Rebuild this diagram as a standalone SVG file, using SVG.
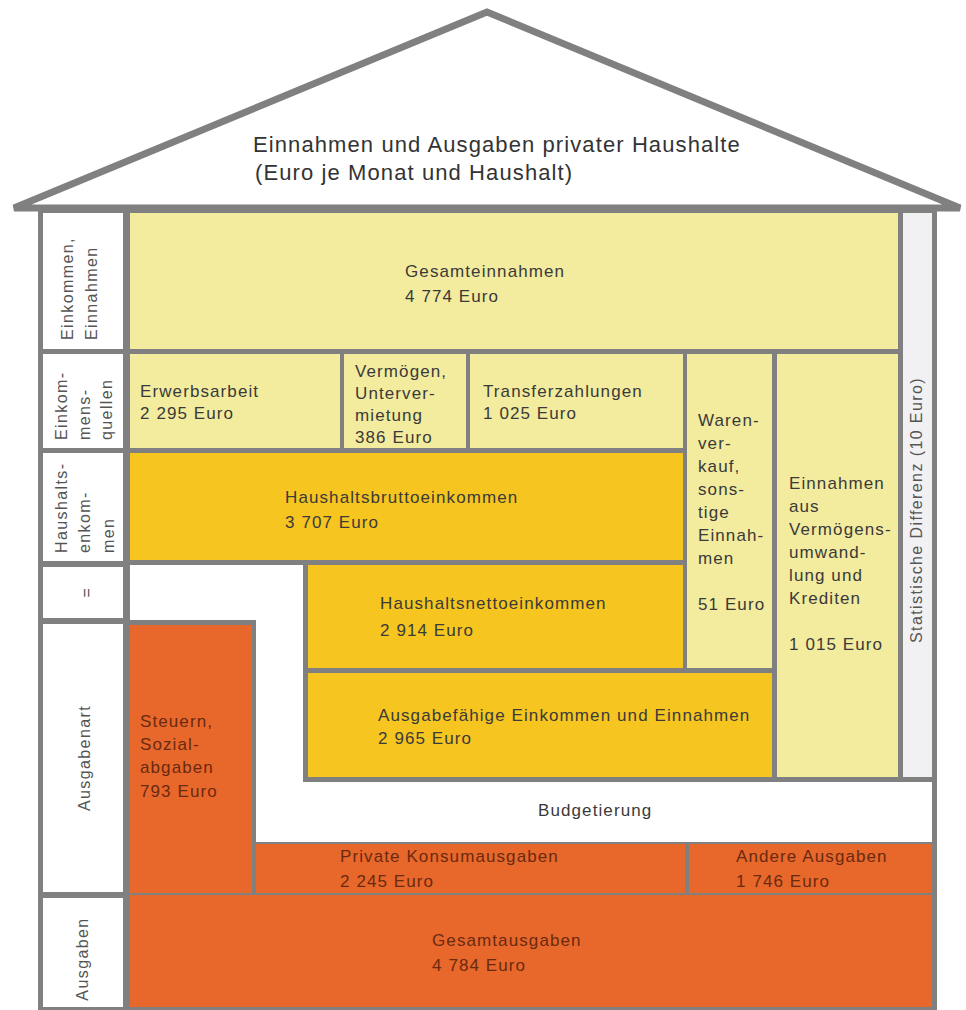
<svg xmlns="http://www.w3.org/2000/svg" width="966" height="1010" viewBox="0 0 966 1010">
<style>
.t{font-family:"Liberation Sans",Arial,sans-serif;font-size:17px;letter-spacing:1.1px;fill:#3a3a3a}
.o{fill:#6a2a10}
.l{font-family:"Liberation Sans",Arial,sans-serif;font-size:16px;letter-spacing:1.4px;fill:#555}
.ti{font-family:"Liberation Sans",Arial,sans-serif;font-size:22px;letter-spacing:1.1px;fill:#333}
.ly{fill:#f3eb9e}
.dy{fill:#f6c520}
.or{fill:#e8672b}
.wh{fill:#fff}
.st{fill:#f1f1f3}
</style>
<rect x="0" y="0" width="966" height="1010" fill="#fff"/>
<g id="roof">
<polygon points="14,208 487,12 960,208" fill="#fff" stroke="#808080" stroke-width="7"/>
<text class="ti" x="253" y="152">Einnahmen und Ausgaben privater Haushalte</text>
<text class="ti" x="255" y="180">(Euro je Monat und Haushalt)</text>
</g>
<g id="body-frame">
<rect x="38" y="208" width="899" height="802" fill="#808080"/>
</g>
<g id="labels">
<g id="lbl-einkommen">
<rect class="wh" x="43" y="213" width="80" height="136"/>
<text class="l" transform="translate(73,340) rotate(-90)">Einkommen,</text>
<text class="l" transform="translate(97,340) rotate(-90)">Einnahmen</text>
</g>
<g id="lbl-quellen">
<rect class="wh" x="43" y="354" width="80" height="94"/>
<text class="l" transform="translate(67,440) rotate(-90)">Einkom-</text>
<text class="l" transform="translate(90,440) rotate(-90)">mens-</text>
<text class="l" transform="translate(112,440) rotate(-90)">quellen</text>
</g>
<g id="lbl-haushaltseinkommen">
<rect class="wh" x="43" y="453" width="80" height="108"/>
<text class="l" transform="translate(67,553) rotate(-90)">Haushalts-</text>
<text class="l" transform="translate(90,553) rotate(-90)">enkom-</text>
<text class="l" transform="translate(114,553) rotate(-90)">men</text>
</g>
<g id="lbl-gleich">
<rect class="wh" x="43" y="567" width="80" height="51"/>
<text class="l" text-anchor="middle" transform="translate(92,592) rotate(-90)">=</text>
</g>
<g id="lbl-ausgabenart">
<rect class="wh" x="43" y="624" width="80" height="268"/>
<text class="l" text-anchor="middle" transform="translate(90,758) rotate(-90)">Ausgabenart</text>
</g>
<g id="lbl-ausgaben">
<rect class="wh" x="43" y="898" width="80" height="109"/>
<text class="l" text-anchor="middle" transform="translate(88,959) rotate(-90)">Ausgaben</text>
</g>
</g>
<g id="gesamteinnahmen">
<rect class="ly" x="130" y="213" width="768" height="136"/>
<text class="t" x="405" y="277">Gesamteinnahmen</text>
<text class="t" x="405" y="302">4 774 Euro</text>
</g>
<g id="statistische-differenz">
<rect class="st" x="903" y="213" width="29" height="564"/>
<text class="l" text-anchor="middle" transform="translate(922,510) rotate(-90)">Statistische Differenz (10 Euro)</text>
</g>
<g id="erwerbsarbeit">
<rect class="ly" x="130" y="354" width="210" height="94"/>
<text class="t" x="140" y="397">Erwerbsarbeit</text>
<text class="t" x="140" y="419">2 295 Euro</text>
</g>
<g id="vermoegen">
<rect class="ly" x="344" y="354" width="122" height="94"/>
<text class="t" x="355" y="377">Vermögen,</text>
<text class="t" x="355" y="399">Unterver-</text>
<text class="t" x="355" y="421">mietung</text>
<text class="t" x="355" y="443">386 Euro</text>
</g>
<g id="transferzahlungen">
<rect class="ly" x="470" y="354" width="213" height="94"/>
<text class="t" x="483" y="397">Transferzahlungen</text>
<text class="t" x="483" y="419">1 025 Euro</text>
</g>
<g id="warenverkauf">
<rect class="ly" x="687" y="354" width="85" height="314"/>
<text class="t" x="698" y="426">Waren-</text>
<text class="t" x="698" y="449">ver-</text>
<text class="t" x="698" y="472">kauf,</text>
<text class="t" x="698" y="495">sons-</text>
<text class="t" x="698" y="518">tige</text>
<text class="t" x="698" y="541">Einnah-</text>
<text class="t" x="698" y="564">men</text>
<text class="t" x="698" y="610">51 Euro</text>
</g>
<g id="vermoegensumwandlung">
<rect class="ly" x="777" y="354" width="121" height="423"/>
<text class="t" x="789" y="489">Einnahmen</text>
<text class="t" x="789" y="512">aus</text>
<text class="t" x="789" y="535">Vermögens-</text>
<text class="t" x="789" y="558">umwand-</text>
<text class="t" x="789" y="581">lung und</text>
<text class="t" x="789" y="604">Krediten</text>
<text class="t" x="789" y="650">1 015 Euro</text>
</g>
<g id="haushaltsbruttoeinkommen">
<rect class="dy" x="130" y="453" width="553" height="107"/>
<text class="t" x="285" y="503">Haushaltsbruttoeinkommen</text>
<text class="t" x="285" y="528">3 707 Euro</text>
</g>
<g id="budgetierung">
<polygon class="wh" points="130,565 303,565 303,782 932,782 932,842 256,842 256,620 130,620"/>
<text class="t" x="538" y="816">Budgetierung</text>
</g>
<g id="haushaltsnettoeinkommen">
<rect class="dy" x="308" y="565" width="375" height="103"/>
<text class="t" x="380" y="609">Haushaltsnettoeinkommen</text>
<text class="t" x="380" y="636">2 914 Euro</text>
</g>
<g id="ausgabefaehige">
<rect class="dy" x="308" y="673" width="464" height="104"/>
<text class="t" x="378" y="721">Ausgabefähige Einkommen und Einnahmen</text>
<text class="t" x="378" y="744">2 965 Euro</text>
</g>
<g id="steuern">
<rect class="or" x="130" y="625" width="122" height="268"/>
<text class="t o" x="140" y="727">Steuern,</text>
<text class="t o" x="140" y="750">Sozial-</text>
<text class="t o" x="140" y="773">abgaben</text>
<text class="t o" x="140" y="797">793 Euro</text>
</g>
<g id="private-konsumausgaben">
<rect class="or" x="256" y="844" width="429" height="49"/>
<text class="t o" x="340" y="862">Private Konsumausgaben</text>
<text class="t o" x="340" y="887">2 245 Euro</text>
</g>
<g id="andere-ausgaben">
<rect class="or" x="689" y="844" width="243" height="49"/>
<text class="t o" x="736" y="862">Andere Ausgaben</text>
<text class="t o" x="736" y="887">1 746 Euro</text>
</g>
<g id="gesamtausgaben">
<rect class="or" x="130" y="895" width="802" height="112"/>
<text class="t o" x="432" y="946">Gesamtausgaben</text>
<text class="t o" x="432" y="971">4 784 Euro</text>
</g>
<g id="connectors"></g>
</svg>
